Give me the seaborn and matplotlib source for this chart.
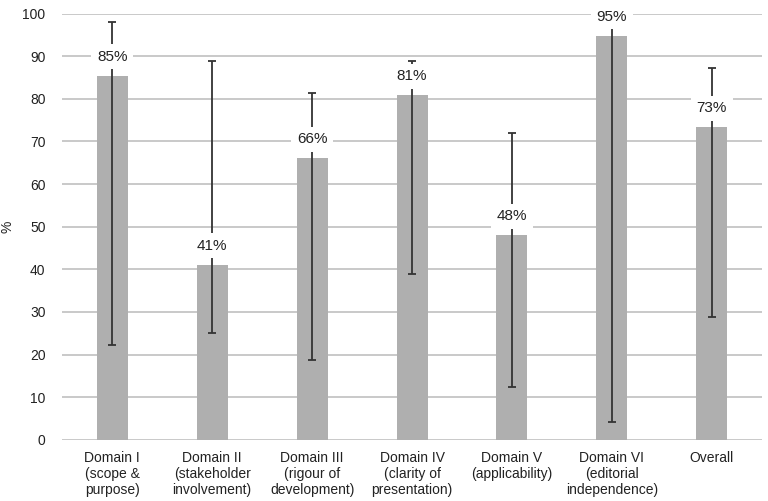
import seaborn as sns
import matplotlib.pyplot as plt
import numpy as np
import pandas as pd

domains = ['Domain I\n(scope &\npurpose)', 'Domain II\n(stakeholder\ninvolvement)',
           'Domain III\n(rigour of\ndevelopment)', 'Domain IV\n(clarity of\npresentation)',
           'Domain V\n(applicability)', 'Domain VI\n(editorial\nindependence)', 'Overall']
score = [85.4, 41.0, 66.0, 80.8, 48.0, 94.8, 73.3]
low = [22.2, 25.0, 18.8, 38.9, 12.5, 4.2, 28.9]
high = [98.0, 88.9, 81.3, 88.8, 71.9, 100.0, 87.3]
labels = ['85%', '41%', '66%', '81%', '48%', '95%', '73%']

df = pd.DataFrame({'domain': domains, 'score': score})

sns.set_style('white')
plt.rcParams['font.family'] = ['Liberation Sans', 'DejaVu Sans']

fig, ax = plt.subplots(figsize=(7.68, 5.01), dpi=100)
fig.subplots_adjust(left=0.081, right=0.992, top=0.973, bottom=0.122)

sns.barplot(data=df, x='domain', y='score', color='#afafaf', saturation=1,
            width=0.31, linewidth=0, ax=ax, zorder=2)

x = np.arange(len(domains))
yerr = [np.array(score) - np.array(low), np.array(high) - np.array(score)]
ax.errorbar(x, score, yerr=yerr, fmt='none', ecolor='#333333', elinewidth=1.3,
            capsize=3, capthick=1.3, zorder=3)

for xi, v, t in zip(x, score, labels):
    ax.text(xi, v + 4.5, t, ha='center', va='center', fontsize=11, color='#222222',
            zorder=4, bbox=dict(facecolor='white', edgecolor='none', pad=4))

ax.set_ylim(0, 100)
ax.set_xlim(-0.5, len(domains) - 0.5)
ax.set_yticks(range(0, 101, 10))
ax.yaxis.grid(True, color='#c0c0c0', linewidth=1.2, zorder=0)
ax.set_axisbelow(True)
for s in ax.spines.values():
    s.set_visible(False)
ax.tick_params(axis='both', length=0, labelsize=10, colors='#222222')
ax.tick_params(axis='y', pad=12)
ax.tick_params(axis='x', pad=8)
ax.set_xlabel('')
ax.set_ylabel('%', fontsize=10, color='#222222', labelpad=6)

fig.savefig('out.png', dpi=100)
